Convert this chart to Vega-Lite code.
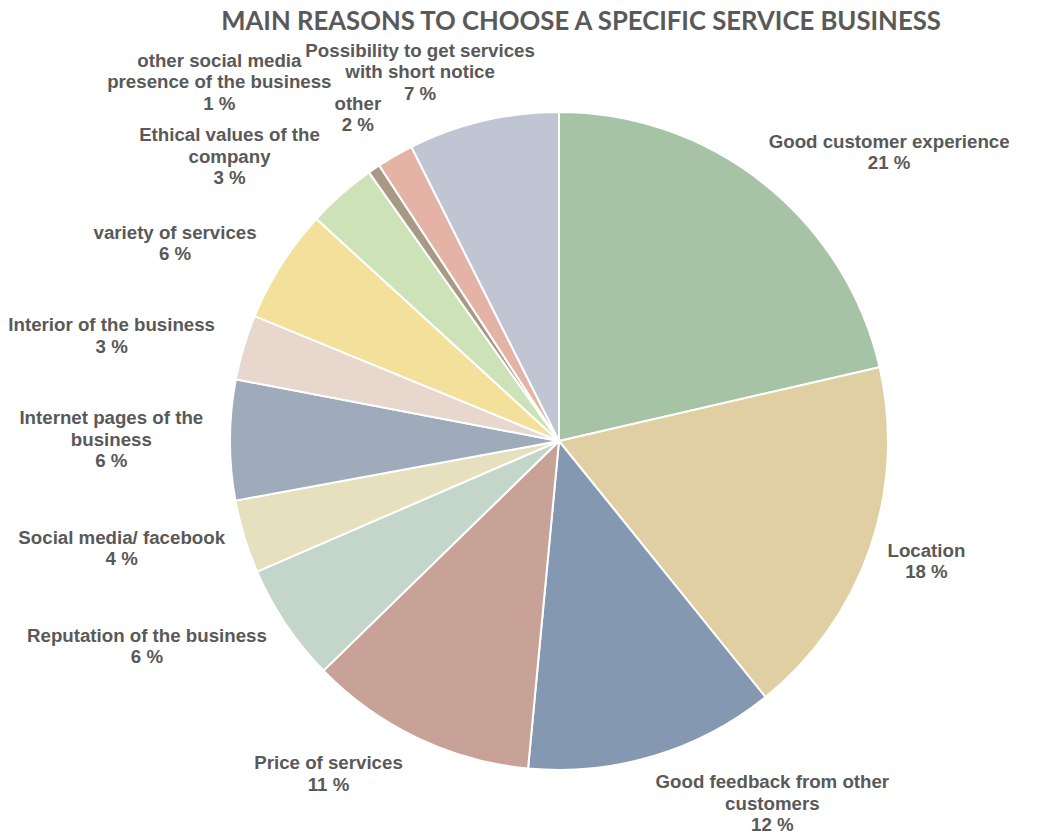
{
  "$schema": "https://vega.github.io/schema/vega-lite/v6.json",
  "width": 958,
  "height": 786,
  "autosize": {"type": "none"},
  "padding": {"left": 80, "top": 48, "right": 0, "bottom": 0},
  "background": "white",
  "title": {
    "text": "MAIN REASONS TO CHOOSE A SPECIFIC SERVICE BUSINESS",
    "font": "Lato",
    "fontSize": 25.7,
    "fontWeight": "bold",
    "color": "#595959",
    "anchor": "middle",
    "frame": "group",
    "dx": 22,
    "dy": 6,
    "offset": 12
  },
  "data": {
    "values": [
      {"reason": "Good customer experience", "label": "Good customer experience", "value": 21.4},
      {"reason": "Location", "label": "Location", "value": 17.8},
      {"reason": "Good feedback from other customers", "label": "Good feedback from other|customers", "value": 12.3},
      {"reason": "Price of services", "label": "Price of services", "value": 11.2},
      {"reason": "Reputation of the business", "label": "Reputation of the business", "value": 5.8},
      {"reason": "Social media/ facebook", "label": "Social media/ facebook", "value": 3.6},
      {"reason": "Internet pages of the business", "label": "Internet pages of the|business", "value": 5.9},
      {"reason": "Interior of the business", "label": "Interior of the business", "value": 3.2},
      {"reason": "variety of services", "label": "variety of services", "value": 5.6},
      {"reason": "Ethical values of the company", "label": "Ethical values of the|company", "value": 3.4},
      {"reason": "other social media presence of the business", "label": "other social media|presence of the business", "value": 0.6},
      {"reason": "other", "label": "other", "value": 1.8},
      {"reason": "Possibility to get services with short notice", "label": "Possibility to get services|with short notice", "value": 7.4}
    ]
  },
  "transform": [
    {"window": [{"op": "row_number", "as": "idx"}, {"op": "sum", "field": "value", "as": "cum"}], "frame": [null, 0]},
    {"joinaggregate": [{"op": "sum", "field": "value", "as": "total"}]},
    {"calculate": "2 * PI * (datum.cum - datum.value / 2) / datum.total", "as": "ang"},
    {"calculate": "split(datum.label, '|')", "as": "parts"},
    {"calculate": "length(datum.parts) + 1", "as": "nlines"},
    {"calculate": "max(length(datum.parts[0]), length(datum.parts[1] || ''))", "as": "maxlen"},
    {"calculate": "datum.maxlen * 4.7", "as": "hw"},
    {"calculate": "datum.nlines * 10", "as": "hh"},
    {"calculate": "20 + 39 * max(0, 2 - datum.value)", "as": "g"},
    {"calculate": "cos(datum.ang) > 0 ? 2 : 3.5", "as": "k"},
    {"calculate": "datum.hw * clamp(sin(datum.ang) * datum.k, -1, 1) + datum.g * sin(datum.ang)", "as": "ox"},
    {"calculate": "-cos(datum.ang) * (datum.hh + datum.g) - (datum.nlines - 1) * 10.75", "as": "oy"},
    {"calculate": "datum.label + '|' + format(datum.value, '.0f') + ' %'", "as": "txt"}
  ],
  "encoding": {
    "theta": {"field": "value", "type": "quantitative", "stack": true},
    "order": {"field": "idx", "type": "quantitative", "sort": "ascending"}
  },
  "layer": [
    {
      "mark": {"type": "arc", "outerRadius": 329, "stroke": "white", "strokeWidth": 2},
      "encoding": {
        "color": {
          "field": "reason",
          "type": "nominal",
          "legend": null,
          "scale": {
            "domain": [
              "Good customer experience",
              "Location",
              "Good feedback from other customers",
              "Price of services",
              "Reputation of the business",
              "Social media/ facebook",
              "Internet pages of the business",
              "Interior of the business",
              "variety of services",
              "Ethical values of the company",
              "other social media presence of the business",
              "other",
              "Possibility to get services with short notice"
            ],
            "range": [
              "#A6C4A5", "#DFCFA3", "#8598B1", "#C9A297", "#C4D6C9", "#E7E0BE",
              "#9FAABA", "#E8D7CD", "#F2E09B", "#CEE2B8", "#A89985", "#E5B3A6", "#BFC5D3"
            ]
          }
        }
      }
    },
    {
      "mark": {
        "type": "text",
        "radius": 329,
        "align": "center",
        "baseline": "middle",
        "font": "Liberation Sans",
        "fontSize": 18.7,
        "fontWeight": "bold",
        "lineHeight": 21.5,
        "lineBreak": "|",
        "color": "#595959",
        "dx": {"expr": "datum.ox"},
        "dy": {"expr": "datum.oy"}
      },
      "encoding": {
        "text": {"field": "txt", "type": "nominal"}
      }
    }
  ]
}
